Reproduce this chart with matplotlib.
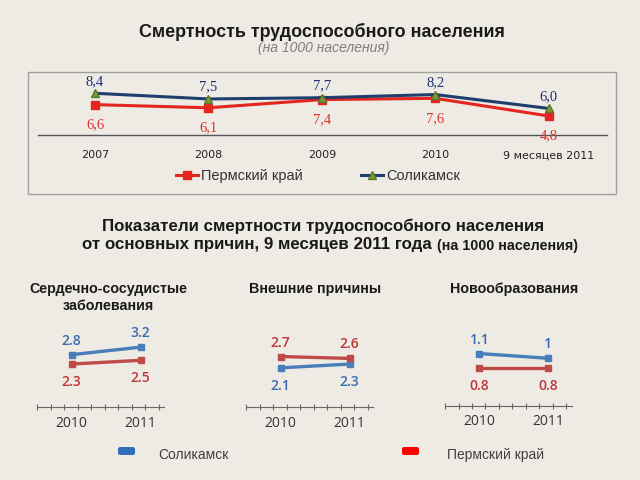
import numpy as np
import matplotlib.pyplot as plt
from matplotlib.patches import Rectangle, FancyBboxPatch

# top chart data
years = ['2007', '2008', '2009', '2010', '9 месяцев 2011']
perm = [6.6, 6.1, 7.4, 7.6, 4.8]
solikamsk = [8.4, 7.5, 7.7, 8.2, 6.0]

# causes, 2010 vs 9 months 2011
causes = ['Сердечно-сосудистые\nзаболевания', 'Внешние причины', 'Новообразования']
cause_years = ['2010', '2011']
cause_solikamsk = [[2.8, 3.2], [2.1, 2.3], [1.1, 1.0]]
cause_perm = [[2.3, 2.5], [2.7, 2.6], [0.8, 0.8]]

W, H = 640, 480
BG = '#EDEBE3'
SANS = 'Liberation Sans'

fig = plt.figure(figsize=(6.4, 4.8), dpi=100, facecolor=BG)


def px_axes(x0, y0, x1, y1):
    a = fig.add_axes([x0 / W, 1 - y1 / H, (x1 - x0) / W, (y1 - y0) / H])
    a.set_facecolor('none')
    return a


def fx(x):
    return x / W


def fy(y):
    return 1 - y / H


# titles
fig.text(fx(322), fy(32), 'Смертность трудоспособного населения', ha='center', va='center',
         fontsize=12.9, fontweight='bold', family=SANS, color='#1a1a1a')
fig.text(fx(324), fy(48), '(на 1000 населения)', ha='center', va='center',
         fontsize=10, style='italic', family=SANS, color='#7f7f7f')

# frame around top chart
fig.patches.append(Rectangle((fx(28), fy(194)), fx(616 - 28), (194 - 72) / H,
                             transform=fig.transFigure, facecolor='none',
                             edgecolor='#a0a0a0', lw=1))

# top chart
ax = px_axes(38, 72, 607, 135)
x = np.arange(len(years))
ax.plot(x, perm, color='#E52620', lw=2.2, marker='s', ms=6, mfc='#E52620', mec='#E52620',
        label='Пермский край', zorder=3)
ax.plot(x, solikamsk, color='#1F3E6E', lw=2.2, marker='^', ms=6, mfc='#7A9A3A', mec='#5A7A2A',
        label='Соликамск', zorder=4)
for xi, v in zip(x, solikamsk):
    ax.annotate(f'{v:.1f}'.replace('.', ','), (xi, v), xytext=(0, 12), textcoords='offset pixels',
                ha='center', va='center', fontsize=10.5, family='Liberation Serif', color='#1F2F7A')
for xi, v in zip(x, perm):
    ax.annotate(f'{v:.1f}'.replace('.', ','), (xi, v), xytext=(0, -20), textcoords='offset pixels',
                ha='center', va='center', fontsize=10.5, family='Liberation Serif', color='#E0302A')
ax.set_xlim(-0.503, 4.515)
ax.set_ylim(1.78, 11.78)
ax.set_xticks(x)
ax.set_xticklabels(years, fontsize=8, family='DejaVu Sans', color='#222222')
ax.tick_params(axis='x', length=0, pad=11)
ax.set_yticks([])
for s in ['top', 'left', 'right']:
    ax.spines[s].set_visible(False)
ax.spines['bottom'].set_color('#555555')
ax.spines['bottom'].set_linewidth(1)

handles, labels = ax.get_legend_handles_labels()
fig.legend(handles, labels, loc='center', bbox_to_anchor=(fx(318), fy(176)), ncol=2,
           frameon=False, handlelength=1.5, handletextpad=0.2, columnspacing=4,
           prop={'family': SANS, 'size': 10.5}, labelcolor='#333333')

# second section title
fig.text(fx(323), fy(226), 'Показатели смертности трудоспособного населения', ha='center',
         va='center', fontsize=12.2, fontweight='bold', family=SANS, color='#1a1a1a')
fig.text(fx(432), fy(245), 'от основных причин, 9 месяцев 2011 года', ha='right',
         va='center', fontsize=12.2, fontweight='bold', family=SANS, color='#1a1a1a')
fig.text(fx(437), fy(246), '(на 1000 населения)', ha='left',
         va='center', fontsize=10.3, fontweight='bold', family=SANS, color='#1a1a1a')

# small charts
pos2010 = [71.7, 280.7, 479.3]
axis_y = [407.3, 407.3, 406]
px_per_unit = [18.8, 18.8, 47.7]
title_x = [108, 315, 514]
step = 69.0
for i in range(3):
    p = pos2010[i]
    a = px_axes(p - 34.3, 320, p + step + 23.4, axis_y[i])
    xs = [0, 1]
    a.plot(xs, cause_solikamsk[i], color='#4A7EBB', lw=2.4, marker='s', ms=5, zorder=3)
    a.plot(xs, cause_perm[i], color='#BE4B48', lw=2.4, marker='s', ms=5, zorder=3)
    for j in range(2):
        sv, pv = cause_solikamsk[i][j], cause_perm[i][j]
        s_up = sv >= pv
        a.annotate(f'{sv:g}', (j, sv), xytext=(0, 14 if s_up else -18), textcoords='offset pixels',
                   ha='center', va='center', fontsize=10, fontweight='semibold',
                   family='Open Sans', color='#3B6AB0')
        a.annotate(f'{pv:g}', (j, pv), xytext=(0, -18 if s_up else 14), textcoords='offset pixels',
                   ha='center', va='center', fontsize=10, fontweight='semibold',
                   family='Open Sans', color='#C0353A')
    left = -34.3 / step
    right = 1 + 23.4 / step
    a.set_xlim(left, right)
    a.set_ylim(0, (axis_y[i] - 320) / px_per_unit[i])
    a.set_xticks(xs)
    a.set_xticklabels(cause_years, fontsize=10, family='Open Sans', color='#333333')
    a.tick_params(axis='x', which='major', length=0, pad=6)
    a.set_xticks(np.arange(left, right + 0.01, 13.5 / step), minor=True)
    a.tick_params(axis='x', which='minor', length=4, direction='inout', color='#666666', width=0.8)
    a.set_yticks([])
    for s in ['top', 'left', 'right']:
        a.spines[s].set_visible(False)
    a.spines['bottom'].set_color('#666666')
    a.spines['bottom'].set_linewidth(0.8)
    fig.text(fx(title_x[i]), fy(282 if i == 0 else 289), causes[i], ha='center',
             va='top' if i == 0 else 'center',
             fontsize=10.3, fontweight='bold', family=SANS, color='#1a1a1a', linespacing=1.3)

# bottom legend
for (x0, col, txt, tx) in [(118, '#2F6EBA', 'Соликамск', 158), (402, '#FF0000', 'Пермский край', 447)]:
    fig.patches.append(FancyBboxPatch((fx(x0), fy(455)), fx(17), 8 / H,
                                      boxstyle='round,pad=0,rounding_size=0.004',
                                      transform=fig.transFigure, facecolor=col, edgecolor='none'))
    fig.text(fx(tx), fy(455), txt, ha='left', va='center', fontsize=10, family=SANS,
             color='#404040')

plt.savefig('out.png', dpi=100, facecolor=BG)
